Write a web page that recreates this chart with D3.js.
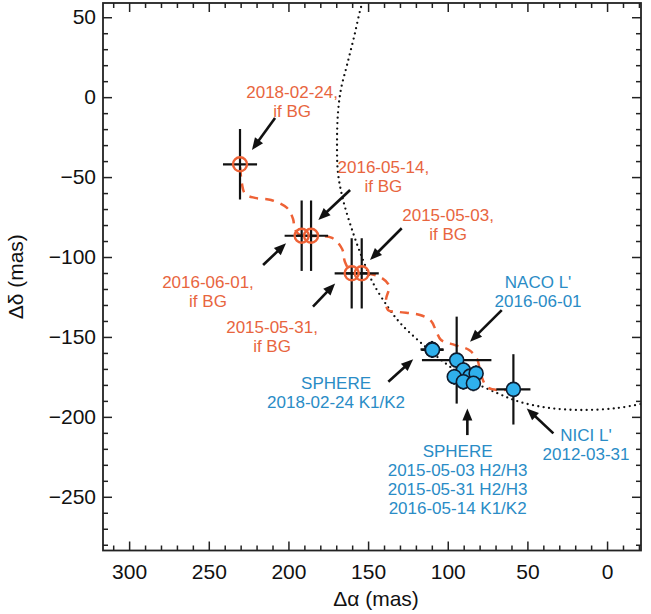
<!DOCTYPE html>
<html><head><meta charset="utf-8">
<script src="https://cdn.jsdelivr.net/npm/d3@7"></script>
<style>body{margin:0;background:#fff}svg{display:block}</style>
</head><body>
<svg id="chart" width="651" height="614"></svg>
<script>
// ---------------- data ----------------
const xMajorTicks = [300, 250, 200, 150, 100, 50, 0];
const yMajorTicks = [50, 0, -50, -100, -150, -200, -250];

// predicted background-star positions
const bgDates  = ["2018-02-24", "2016-06-01", "2016-05-14", "2015-05-31", "2015-05-03"];
const bgRA     = [230.4, 191.7, 185.8, 160.3, 154.0];
const bgDec    = [-42.0, -86.7, -86.7, -110.2, -110.2];
const bgErrRA  = [10.7, 10.7, 10.7, 10.7, 10.7];
const bgErrDec = [22.0, 22.0, 22.0, 22.0, 22.0];

// measured positions
const obsNames  = ["NICI L' 2012-03-31", "NACO L' 2016-06-01", "SPHERE 2018-02-24 K1", "SPHERE 2018-02-24 K2",
                   "SPHERE 2015-05-03 H2", "SPHERE 2015-05-03 H3", "SPHERE 2015-05-31 H2", "SPHERE 2015-05-31 H3",
                   "SPHERE 2016-05-14 K1", "SPHERE 2016-05-14 K2"];
const obsRA     = [58.8, 94.4, 109.9, 109.6, 90.2, 95.9, 86.0, 82.2, 90.2, 83.9];
const obsDec    = [-182.8, -164.5, -157.8, -158.1, -170.7, -174.9, -174.5, -172.8, -178.0, -179.0];
const obsErrRA  = [10.7, 21.8, 7.2, 7.0, 4.0, 4.0, 4.0, 4.0, 4.0, 4.0];
const obsErrDec = [22.0, 27.2, 5.3, 5.0, 5.0, 5.0, 5.0, 5.0, 5.0, 5.0];

// background track (dashed)
const trackRA  = [59.0, 68.4, 75.3, 79.1, 81.6, 86.6, 95.4, 104.2, 107.3, 110.5, 117.4, 130.6, 137.5, 138.7, 136.8,
                  142.5, 153.8, 160.1, 164.5, 166.3, 172.6, 185.8, 191.5, 195.9, 197.1, 200.9, 210.9, 221.0, 227.2, 229.5, 230.4];
const trackDec = [-182.6, -183.2, -181.3, -173.8, -163.8, -158.2, -155.1, -151.9, -146.3, -140.0, -136.3, -134.4, -133.2, -126.3, -118.1,
                  -112.5, -110.0, -110.0, -103.1, -95.0, -88.1, -86.8, -86.8, -83.1, -76.2, -69.3, -64.3, -63.0, -60.5, -52.0, -41.8];

// orbit (dotted)
const orbitRA  = [152.0, 154.4, 158.8, 163.2, 167.0, 168.9, 169.5, 168.9, 165.7, 159.4, 153.2, 146.9, 137.5, 129.9,
                  117.4, 101.7, 86.0, 69.1, 54.6, 35.8, 15.1, -6.3, -23.9];
const orbitDec = [62.7, 56.4, 37.7, 20.2, 5.1, -9.9, -28.7, -47.4, -64.3, -85.0, -101.9, -116.3, -131.4, -141.3,
                  -153.2, -166.3, -177.0, -185.1, -190.7, -194.5, -195.7, -194.5, -191.4];

// annotation texts
const orangeLabels = [["2018-02-24,", "if BG"], ["2016-05-14,", "if BG"], ["2015-05-03,", "if BG"],
                      ["2016-06-01,", "if BG"], ["2015-05-31,", "if BG"]];
const blueLabels   = [["NACO L'", "2016-06-01"], ["SPHERE", "2018-02-24 K1/K2"],
                      ["SPHERE", "2015-05-03 H2/H3", "2015-05-31 H2/H3", "2016-05-14 K1/K2"],
                      ["NICI L'", "2012-03-31"]];

// ---------------- layout ----------------
const W = 651, H = 614;
const L = 103, R = 641, T = 3, B = 550.5;
const orange = "#ee6236", orangeText = "#e8653e", blueText = "#2a8cc6", blueFill = "#2fb0ec";
const font = "'Liberation Sans', Arial, Helvetica, sans-serif";

const x = d3.scaleLinear().domain([316.4, -21.3]).range([L, R]);
const y = d3.scaleLinear().domain([-283.6, 58.9]).range([B, T]);

const svg = d3.select("#chart");
svg.append("rect").attr("width", W).attr("height", H).attr("fill", "#fff");

svg.append("defs").append("clipPath").attr("id", "clip")
  .append("rect").attr("x", L).attr("y", T).attr("width", R - L).attr("height", B - T);

const plot = svg.append("g").attr("clip-path", "url(#clip)");

// orbit
const orbitPts = orbitRA.map((d, i) => [d, orbitDec[i]]);
plot.append("path")
  .attr("d", d3.line().x(d => x(d[0])).y(d => y(d[1])).curve(d3.curveCatmullRom)(orbitPts))
  .attr("fill", "none").attr("stroke", "#111").attr("stroke-width", 2.3)
  .attr("stroke-linecap", "round").attr("stroke-dasharray", "0,5.4");

// background track
const trackPts = trackRA.map((d, i) => [d, trackDec[i]]);
plot.append("path")
  .attr("d", d3.line().x(d => x(d[0])).y(d => y(d[1])).curve(d3.curveCatmullRom)(trackPts))
  .attr("fill", "none").attr("stroke", orange).attr("stroke-width", 2.5)
  .attr("stroke-dasharray", "9,7");

// error bars helper
function errorBars(g, ra, dec, era, edec) {
  ra.forEach((d, i) => {
    g.append("line").attr("x1", x(d - era[i])).attr("x2", x(d + era[i]))
      .attr("y1", y(dec[i])).attr("y2", y(dec[i]))
      .attr("stroke", "#111").attr("stroke-width", 2.2);
    g.append("line").attr("x1", x(d)).attr("x2", x(d))
      .attr("y1", y(dec[i] - edec[i])).attr("y2", y(dec[i] + edec[i]))
      .attr("stroke", "#111").attr("stroke-width", 2.2);
  });
}

// BG predictions
const bgG = plot.append("g");
errorBars(bgG, bgRA, bgDec, bgErrRA, bgErrDec);
bgG.selectAll("circle.bg").data(bgRA).join("circle").attr("class", "bg")
  .attr("cx", d => x(d)).attr("cy", (d, i) => y(bgDec[i])).attr("r", 7)
  .attr("fill", "none").attr("stroke", orange).attr("stroke-width", 2.4);

// observations
const obsG = plot.append("g");
errorBars(obsG, obsRA, obsDec, obsErrRA, obsErrDec);
obsG.selectAll("circle.obs").data(obsRA).join("circle").attr("class", "obs")
  .attr("cx", d => x(d)).attr("cy", (d, i) => y(obsDec[i])).attr("r", 7)
  .attr("fill", blueFill).attr("stroke", "#0d1b2e").attr("stroke-width", 1.6);

// arrows (tail -> tip, data coordinates)
const arrowTailRA  = [208.4, 161.3, 128.9, 215.9, 184.6, 66.1, 137.3, 87.7, 33.7];
const arrowTailDec = [-13.1, -58.1, -82.0, -105.0, -131.1, -133.2, -178.0, -211.4, -210.3];
const arrowTipRA   = [222.9, 181.2, 148.8, 201.5, 170.7, 86.0, 121.7, 87.7, 50.4];
const arrowTipDec  = [-33.0, -76.8, -101.9, -91.4, -116.5, -153.0, -164.0, -194.7, -194.7];
const arrowG = svg.append("g");
arrowTailRA.forEach((d, i) => {
  const x1 = x(d), y1 = y(arrowTailDec[i]), x2 = x(arrowTipRA[i]), y2 = y(arrowTipDec[i]);
  const dx = x2 - x1, dy = y2 - y1, len = Math.hypot(dx, dy), ux = dx / len, uy = dy / len;
  const hl = 12, hw = 5;
  const bx = x2 - ux * hl, by = y2 - uy * hl;
  arrowG.append("line").attr("x1", x1).attr("y1", y1).attr("x2", bx + ux * 2).attr("y2", by + uy * 2)
    .attr("stroke", "#111").attr("stroke-width", 2.6);
  arrowG.append("path")
    .attr("d", `M${x2},${y2}L${bx - uy * hw},${by + ux * hw}L${bx + uy * hw},${by - ux * hw}Z`)
    .attr("fill", "#111");
});

// labels (anchor = centre of first baseline, data coords)
const orangeAnchorRA  = [197.7, 140.4, 99.8, 250.5, 210.3];
const orangeAnchorDec = [-0.5, -47.7, -77.5, -119.4, -147.6];
const blueAnchorRA    = [43.3, 170.1, 93.8, 13.2];
const blueAnchorDec   = [-119.4, -182.6, -225.2, -215.1];
const lineGap = 19;

function drawLabels(lines, ra, dec, color) {
  lines.forEach((ls, i) => {
    const t = svg.append("text").attr("text-anchor", "middle")
      .attr("font-family", font).attr("font-size", 17).attr("fill", color);
    ls.forEach((s, j) => {
      t.append("tspan").attr("x", x(ra[i])).attr("y", y(dec[i]) + j * lineGap).text(s);
    });
  });
}
drawLabels(orangeLabels, orangeAnchorRA, orangeAnchorDec, orangeText);
drawLabels(blueLabels, blueAnchorRA, blueAnchorDec, blueText);

// ---------------- axes ----------------
const xMinor = d3.range(-20, 320, 10).filter(v => v % 50 !== 0);
const yMinor = d3.range(-280, 60, 10).filter(v => v % 50 !== 0);
const axisStyle = g => {
  g.select(".domain").remove();
  g.selectAll("line").attr("stroke", "#222").attr("stroke-width", 1.5);
  g.selectAll("text").attr("font-family", font).attr("font-size", 21).attr("fill", "#111");
};

svg.append("g").attr("transform", `translate(0,${B})`)
  .call(d3.axisBottom(x).tickValues(xMajorTicks).tickSize(-9).tickPadding(13.5)).call(axisStyle);
svg.append("g").attr("transform", `translate(0,${B})`)
  .call(d3.axisBottom(x).tickValues(xMinor).tickSize(-5).tickFormat("")).call(axisStyle);
svg.append("g").attr("transform", `translate(0,${T})`)
  .call(d3.axisTop(x).tickValues(xMajorTicks).tickSize(-9).tickFormat("")).call(axisStyle);
svg.append("g").attr("transform", `translate(0,${T})`)
  .call(d3.axisTop(x).tickValues(xMinor).tickSize(-5).tickFormat("")).call(axisStyle);

svg.append("g").attr("transform", `translate(${L},0)`)
  .call(d3.axisLeft(y).tickValues(yMajorTicks).tickSize(-9).tickPadding(7)).call(axisStyle);
svg.append("g").attr("transform", `translate(${L},0)`)
  .call(d3.axisLeft(y).tickValues(yMinor).tickSize(-5).tickFormat("")).call(axisStyle);
svg.append("g").attr("transform", `translate(${R},0)`)
  .call(d3.axisRight(y).tickValues(yMajorTicks).tickSize(-9).tickFormat("")).call(axisStyle);
svg.append("g").attr("transform", `translate(${R},0)`)
  .call(d3.axisRight(y).tickValues(yMinor).tickSize(-5).tickFormat("")).call(axisStyle);

svg.append("rect").attr("x", L).attr("y", T).attr("width", R - L).attr("height", B - T)
  .attr("fill", "none").attr("stroke", "#222").attr("stroke-width", 1.8);

// axis titles
svg.append("text").attr("x", (L + R) / 2 + 4).attr("y", 606).attr("text-anchor", "middle")
  .attr("font-family", font).attr("font-size", 21).attr("fill", "#111").text("Δα (mas)");
svg.append("text").attr("transform", `translate(23,${(T + B) / 2}) rotate(-90)`).attr("text-anchor", "middle")
  .attr("font-family", font).attr("font-size", 21).attr("fill", "#111").text("Δδ (mas)");
</script>
</body></html>
